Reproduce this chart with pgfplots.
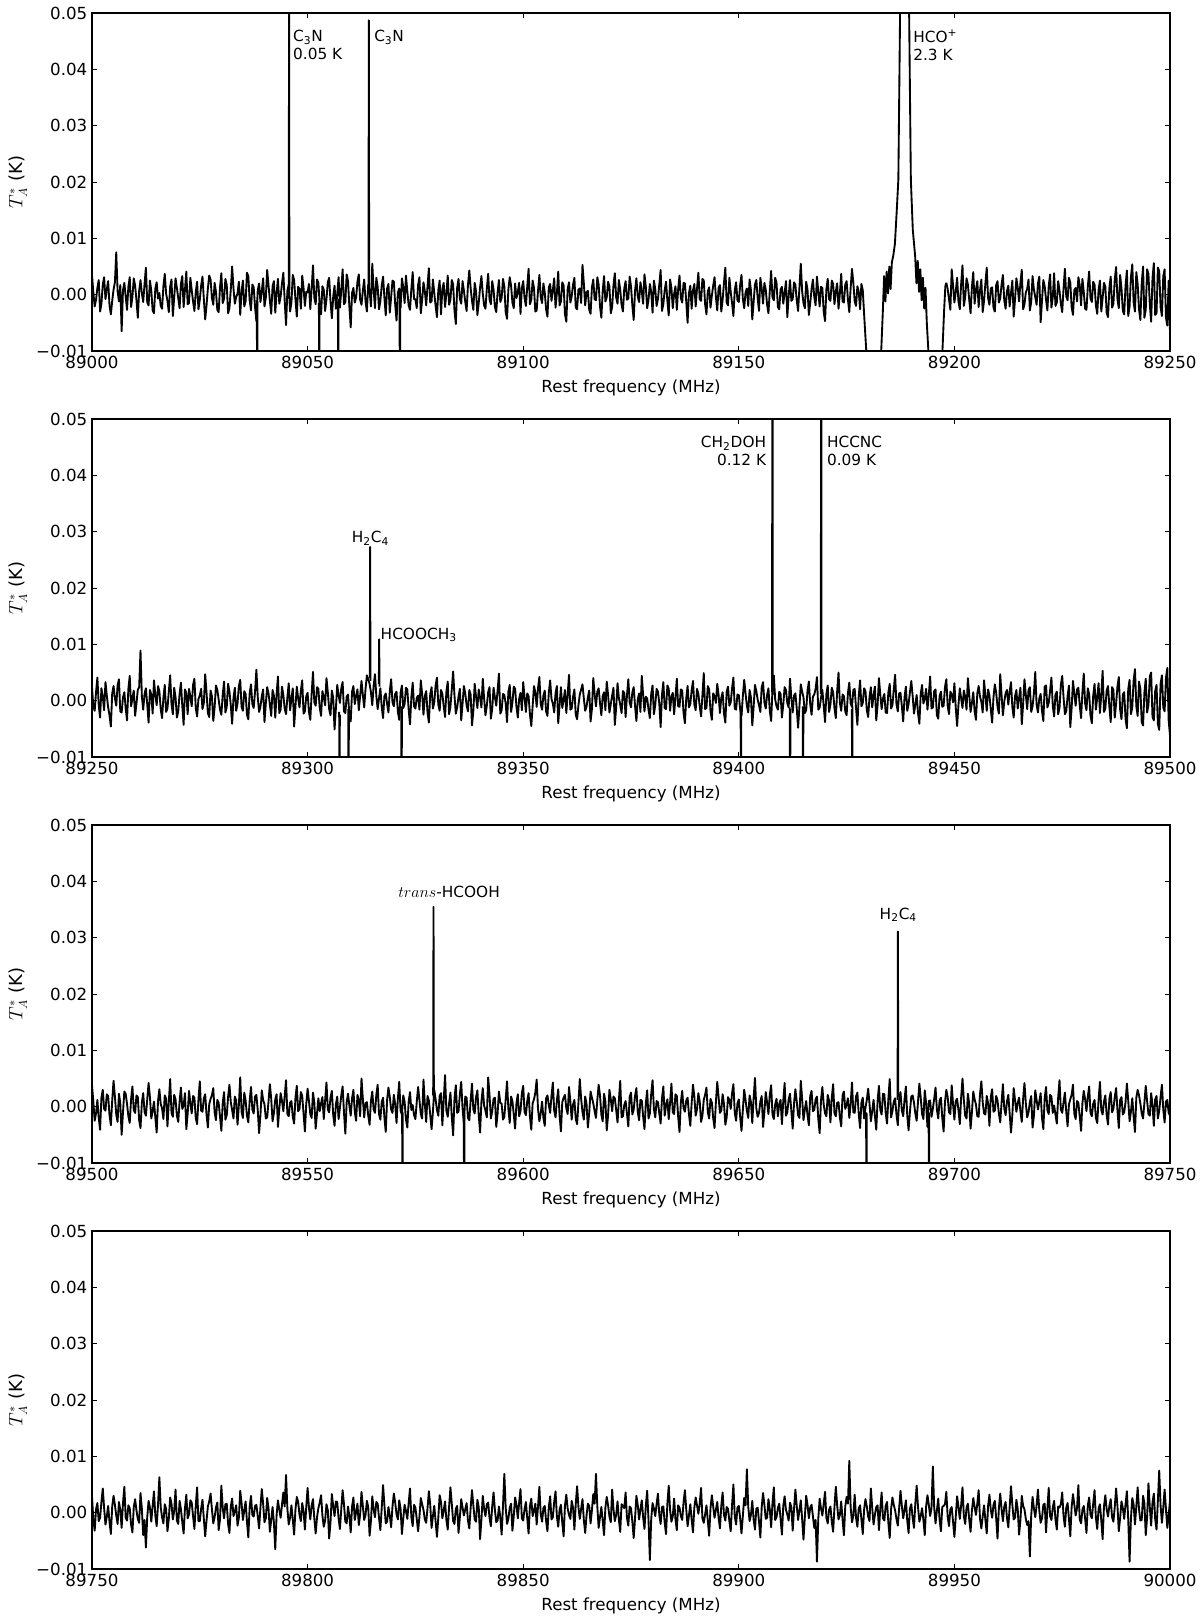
\documentclass[border=0pt]{standalone}
\usepackage{fontspec}
\setmainfont{DejaVu Sans}
\usepackage{pgfplots}
\pgfplotsset{compat=1.18}

\newcommand{\annfont}{\fontsize{11.5}{13.2}\selectfont}

\pgfplotsset{
  specax/.style={
    scale only axis, width=808.5pt, height=253.5pt,
    anchor=south west,
    ymin=-0.01, ymax=0.05,
    scaled x ticks=false, scaled y ticks=false,
    ytick={-0.01,0,0.01,0.02,0.03,0.04,0.05},
    yticklabels={−0.01,0.00,0.01,0.02,0.03,0.04,0.05},
    tick align=inside,
    major tick length=3.5pt,
    every tick/.style={black, line width=0.5pt},
    axis line style={line width=0.8pt},
    tick label style={font=\fontsize{12.5}{15}\selectfont},
    xlabel={Rest frequency (MHz)},
    ylabel={$T_A^*$ (K)},
    every axis x label/.style={at={(axis description cs:0.5,0)}, anchor=center,
      yshift=-27.75pt, font=\fontsize{12.5}{15}\selectfont},
    every axis y label/.style={at={(axis description cs:0,0.5)}, xshift=-55.5pt,
      rotate=90, anchor=center, font=\fontsize{13.5}{16}\selectfont},
    cycle list={{black, solid, mark=none}},
    every axis plot/.append style={line width=1.4pt, line join=round},
  },
}

\begin{document}
\begin{tikzpicture}
\path[use as bounding box] (-69pt,263.25pt) rectangle (831pt,-951.75pt);

% ---------------- panel 1 ----------------
\begin{axis}[specax, at={(0pt,0pt)}, xmin=89000, xmax=89250,
  xtick={89000,89050,89100,89150,89200,89250},
  xticklabels={89000,89050,89100,89150,89200,89250}]
\addplot table[header=false, row sep=\\, x expr=89000+0.3125*\coordindex, y index=0] {
0.0035\\ 0.0004\\ -0.0021\\ -0.0009\\ 0.0012\\ 0.0026\\ -0.0030\\ -0.0016\\ 0.0018\\ 0.0031\\ -0.0008\\ 0.0010\\ 0.0024\\ -0.0019\\ -0.0035\\ -0.0011\\ 0.0009\\ 0.0022\\ 0.0075\\ 0.0006\\ -0.0012\\ 0.0017\\ -0.0065\\ 0.0008\\ 0.0021\\ -0.0003\\ -0.0027\\ 0.0014\\ 0.0031\\ -0.0022\\ -0.0004\\ 0.0029\\ 0.0016\\ -0.0010\\ -0.0041\\ 0.0007\\ 0.0026\\ 0.0002\\ -0.0013\\ 0.0019\\
0.0048\\ -0.0014\\ -0.0019\\ 0.0025\\ 0.0007\\ -0.0028\\ -0.0033\\ 0.0011\\ 0.0022\\ -0.0007\\ 0.0003\\ -0.0020\\ -0.0025\\ 0.0015\\ 0.0037\\ 0.0002\\ -0.0011\\ -0.0031\\ 0.0014\\ 0.0027\\ -0.0038\\ -0.0005\\ 0.0029\\ 0.0012\\ -0.0006\\ -0.0024\\ 0.0019\\ 0.0033\\ -0.0022\\ 0.0009\\ 0.0041\\ -0.0017\\ -0.0015\\ 0.0030\\ 0.0008\\ -0.0012\\ -0.0029\\ 0.0004\\ 0.0023\\ -0.0026\\
-0.0009\\ 0.0016\\ 0.0032\\ -0.0008\\ -0.0044\\ -0.0019\\ 0.0011\\ 0.0034\\ 0.0027\\ -0.0006\\ -0.0018\\ 0.0021\\ 0.0005\\ -0.0027\\ -0.0031\\ 0.0013\\ 0.0038\\ -0.0015\\ -0.0007\\ 0.0028\\ 0.0017\\ -0.0033\\ -0.0024\\ 0.0009\\ 0.0050\\ 0.0011\\ -0.0016\\ -0.0004\\ 0.0002\\ 0.0023\\ -0.0036\\ 0.0006\\ 0.0025\\ -0.0021\\ -0.0012\\ 0.0039\\ 0.0033\\ -0.0010\\ -0.0028\\ 0.0018\\
0.0013\\ -0.0022\\ -0.0047\\ 0.0008\\ 0.0020\\ -0.0013\\ 0.0006\\ 0.0029\\ -0.0021\\ -0.0005\\ 0.0044\\ 0.0017\\ -0.0010\\ -0.0034\\ 0.0015\\ 0.0024\\ -0.0032\\ 0.0003\\ 0.0028\\ -0.0016\\ -0.0003\\ 0.0020\\ 0.0039\\ -0.0011\\ -0.0054\\ 0.0007\\ 0.0018\\ -0.0030\\ -0.0014\\ 0.0035\\ 0.0026\\ -0.0009\\ -0.0039\\ 0.0014\\ 0.0010\\ -0.0025\\ 0.0034\\ 0.0012\\ -0.0020\\ 0.0005\\
0.0004\\ 0.0019\\ -0.0026\\ 0.0010\\ 0.0052\\ -0.0006\\ -0.0017\\ 0.0027\\ 0.0021\\ -0.0018\\ -0.0035\\ 0.0015\\ 0.0009\\ -0.0029\\ -0.0008\\ 0.0022\\ 0.0030\\ -0.0012\\ -0.0042\\ -0.0004\\ 0.0016\\ -0.0025\\ 0.0001\\ 0.0031\\ -0.0023\\ 0.0008\\ 0.0045\\ -0.0017\\ -0.0013\\ 0.0036\\ 0.0024\\ -0.0021\\ -0.0058\\ 0.0003\\ 0.0012\\ -0.0014\\ -0.0005\\ 0.0023\\ 0.0036\\ -0.0009\\
-0.0018\\ 0.0007\\ 0.0027\\ -0.0012\\ -0.0030\\ 0.0018\\ 0.0008\\ -0.0021\\ 0.0055\\ 0.0009\\ -0.0024\\ 0.0030\\ 0.0014\\ -0.0026\\ -0.0011\\ 0.0016\\ 0.0032\\ -0.0005\\ -0.0037\\ 0.0011\\ 0.0019\\ -0.0032\\ -0.0004\\ 0.0025\\ 0.0023\\ -0.0017\\ -0.0046\\ 0.0004\\ 0.0011\\ -0.0023\\ 0.0029\\ 0.0013\\ -0.0015\\ 0.0034\\ 0.0006\\ -0.0019\\ -0.0027\\ 0.0010\\ 0.0040\\ -0.0008\\
-0.0008\\ -0.0024\\ 0.0017\\ 0.0031\\ -0.0033\\ -0.0010\\ 0.0022\\ 0.0006\\ -0.0019\\ 0.0015\\ 0.0047\\ -0.0014\\ -0.0012\\ 0.0027\\ 0.0003\\ -0.0020\\ -0.0040\\ 0.0008\\ 0.0025\\ -0.0035\\ 0.0010\\ 0.0021\\ -0.0022\\ 0.0002\\ 0.0034\\ -0.0018\\ -0.0009\\ 0.0026\\ 0.0018\\ -0.0028\\ -0.0052\\ 0.0012\\ 0.0028\\ -0.0007\\ -0.0016\\ 0.0024\\ 0.0007\\ -0.0013\\ -0.0029\\ 0.0017\\
0.0043\\ 0.0012\\ -0.0011\\ -0.0027\\ 0.0021\\ 0.0006\\ -0.0036\\ -0.0015\\ 0.0013\\ 0.0033\\ 0.0002\\ -0.0019\\ -0.0025\\ 0.0010\\ 0.0037\\ -0.0008\\ -0.0017\\ 0.0024\\ 0.0009\\ -0.0022\\ -0.0031\\ 0.0004\\ 0.0026\\ -0.0013\\ -0.0006\\ 0.0028\\ 0.0015\\ -0.0031\\ -0.0043\\ 0.0009\\ 0.0031\\ 0.0016\\ -0.0014\\ -0.0024\\ 0.0020\\ -0.0006\\ 0.0005\\ 0.0021\\ -0.0034\\ 0.0011\\
0.0024\\ -0.0006\\ -0.0020\\ 0.0014\\ 0.0046\\ -0.0017\\ -0.0009\\ 0.0025\\ 0.0012\\ -0.0030\\ -0.0028\\ 0.0007\\ 0.0035\\ -0.0004\\ -0.0015\\ 0.0020\\ 0.0004\\ -0.0026\\ -0.0039\\ 0.0013\\ 0.0019\\ -0.0011\\ 0.0008\\ 0.0029\\ -0.0023\\ 0.0003\\ 0.0041\\ -0.0019\\ -0.0012\\ 0.0022\\ 0.0016\\ -0.0035\\ -0.0048\\ 0.0010\\ 0.0022\\ -0.0014\\ -0.0003\\ 0.0018\\ 0.0030\\ -0.0023\\
-0.0026\\ 0.0009\\ 0.0011\\ -0.0015\\ 0.0053\\ 0.0020\\ -0.0019\\ 0.0004\\ 0.0007\\ -0.0027\\ -0.0034\\ 0.0013\\ 0.0027\\ -0.0008\\ -0.0010\\ 0.0031\\ 0.0018\\ -0.0021\\ -0.0041\\ 0.0006\\ 0.0033\\ -0.0012\\ -0.0005\\ 0.0023\\ 0.0014\\ -0.0033\\ -0.0022\\ 0.0017\\ 0.0038\\ -0.0005\\ -0.0016\\ 0.0026\\ 0.0009\\ -0.0018\\ -0.0030\\ 0.0011\\ 0.0024\\ -0.0009\\ -0.0007\\ 0.0032\\
0.0015\\ -0.0019\\ -0.0045\\ 0.0007\\ 0.0029\\ -0.0003\\ -0.0013\\ 0.0022\\ 0.0006\\ -0.0016\\ 0.0036\\ 0.0014\\ -0.0024\\ -0.0009\\ 0.0019\\ 0.0005\\ -0.0032\\ 0.0025\\ 0.0010\\ -0.0020\\ -0.0008\\ 0.0018\\ 0.0044\\ -0.0029\\ -0.0017\\ 0.0008\\ 0.0023\\ -0.0011\\ -0.0037\\ 0.0027\\ 0.0012\\ -0.0024\\ 0.0001\\ 0.0015\\ -0.0027\\ 0.0010\\ 0.0034\\ -0.0006\\ -0.0014\\ 0.0021\\
0.0020\\ -0.0012\\ -0.0050\\ 0.0003\\ 0.0016\\ -0.0025\\ 0.0008\\ 0.0019\\ -0.0021\\ 0.0011\\ 0.0039\\ -0.0008\\ -0.0011\\ 0.0028\\ 0.0025\\ -0.0017\\ -0.0035\\ 0.0006\\ 0.0013\\ -0.0023\\ -0.0002\\ 0.0016\\ 0.0031\\ -0.0004\\ -0.0028\\ 0.0012\\ 0.0017\\ -0.0030\\ -0.0009\\ 0.0021\\ 0.0048\\ -0.0014\\ -0.0019\\ 0.0030\\ 0.0005\\ -0.0015\\ -0.0038\\ 0.0008\\ 0.0022\\ -0.0010\\
-0.0013\\ 0.0017\\ 0.0035\\ -0.0007\\ -0.0024\\ 0.0004\\ 0.0011\\ -0.0020\\ 0.0027\\ 0.0008\\ -0.0044\\ -0.0013\\ 0.0018\\ 0.0026\\ -0.0006\\ -0.0029\\ 0.0030\\ 0.0011\\ -0.0016\\ 0.0021\\ 0.0009\\ -0.0018\\ -0.0033\\ 0.0007\\ 0.0042\\ -0.0005\\ -0.0010\\ 0.0030\\ 0.0021\\ -0.0022\\ -0.0026\\ 0.0009\\ 0.0014\\ -0.0016\\ 0.0003\\ 0.0024\\ -0.0040\\ -0.0003\\ 0.0026\\ -0.0011\\
-0.0008\\ 0.0022\\ 0.0017\\ -0.0010\\ -0.0029\\ 0.0013\\ 0.0055\\ 0.0006\\ -0.0015\\ -0.0024\\ 0.0023\\ 0.0009\\ -0.0036\\ -0.0015\\ 0.0010\\ 0.0027\\ -0.0004\\ -0.0019\\ 0.0032\\ 0.0005\\ -0.0021\\ 0.0014\\ 0.0012\\ -0.0030\\ -0.0047\\ 0.0010\\ 0.0028\\ -0.0008\\ -0.0011\\ 0.0025\\ 0.0019\\ -0.0017\\ 0.0006\\ 0.0020\\ -0.0025\\ 0.0002\\ 0.0037\\ -0.0012\\ -0.0014\\ 0.0018\\
0.0024\\ -0.0009\\ -0.0031\\ 0.0012\\ 0.0046\\ 0.0021\\ -0.0012\\ -0.0020\\ 0.0015\\ 0.0006\\ -0.0026\\ 0.0019\\ 0.0008\\
};
% HCO+ line and the dips beside it
\addplot coordinates {(89178.75,0.0008)(89179.1,-0.0040)(89179.6,-0.0105)(89180.5,-0.0200)(89182.2,-0.0200)(89183.0,-0.0105)(89183.4,-0.0030)(89183.7,0.0033)(89184.0,-0.0012)(89184.3,0.0041)(89184.6,0.0002)(89184.9,0.0050)(89185.2,0.0010)(89185.5,0.0058)(89185.8,0.0068)(89186.2,0.0090)(89186.6,0.0145)(89187.0,0.0204)(89187.4,0.0500)(89188.0,1.2)(89188.45,2.3)(89188.9,1.2)(89189.5,0.0500)(89189.9,0.0204)(89190.35,0.0115)(89190.9,0.0068)(89191.2,0.0020)(89191.5,0.0060)(89191.8,0.0005)(89192.1,0.0045)(89192.4,-0.0010)(89192.7,0.0030)(89193.0,-0.0025)(89193.3,0.0012)(89193.6,-0.0050)(89194.0,-0.0105)(89195.0,-0.0200)(89196.5,-0.0200)(89197.2,-0.0105)(89197.6,-0.0030)(89197.9,0.0015)(89198.125,0.0021)};
\addplot table[header=false, row sep=\\, x expr=89198.125+0.3125*\coordindex, y index=0] {
0.0021\\ 0.0010\\ -0.0008\\ -0.0027\\ 0.0045\\ 0.0016\\ -0.0014\\ 0.0005\\ 0.0030\\ -0.0012\\ -0.0026\\ 0.0019\\ 0.0052\\ -0.0020\\ -0.0005\\ 0.0029\\ 0.0018\\ -0.0009\\ -0.0033\\ 0.0014\\ 0.0040\\ -0.0016\\ 0.0009\\ 0.0024\\ -0.0022\\ 0.0007\\ 0.0027\\ -0.0031\\ -0.0011\\ 0.0020\\ 0.0048\\ -0.0006\\ -0.0018\\ 0.0011\\ 0.0013\\ -0.0023\\ -0.0030\\ 0.0017\\ 0.0024\\ -0.0014\\
-0.0007\\ 0.0018\\ 0.0035\\ -0.0010\\ -0.0025\\ 0.0006\\ 0.0016\\ -0.0021\\ 0.0003\\ 0.0025\\ -0.0039\\ -0.0008\\ 0.0029\\ 0.0013\\ -0.0012\\ 0.0021\\ 0.0044\\ -0.0026\\ -0.0017\\ 0.0004\\ 0.0010\\ 0.0027\\ -0.0028\\ -0.0013\\ 0.0033\\ 0.0009\\ -0.0004\\ -0.0018\\ 0.0020\\ 0.0032\\ -0.0049\\ -0.0011\\ 0.0026\\ 0.0015\\ -0.0009\\ -0.0028\\ 0.0015\\ 0.0036\\ -0.0023\\ -0.0005\\
0.0038\\ -0.0020\\ -0.0014\\ 0.0024\\ 0.0007\\ -0.0016\\ -0.0031\\ 0.0011\\ 0.0046\\ -0.0003\\ -0.0010\\ 0.0030\\ 0.0022\\ -0.0022\\ -0.0036\\ 0.0008\\ 0.0012\\ -0.0012\\ 0.0031\\ 0.0017\\ -0.0019\\ 0.0028\\ 0.0005\\ -0.0025\\ -0.0027\\ 0.0014\\ 0.0041\\ -0.0007\\ -0.0013\\ 0.0023\\ 0.0018\\ -0.0019\\ -0.0034\\ 0.0009\\ 0.0025\\ -0.0030\\ -0.0006\\ 0.0021\\ 0.0014\\ -0.0032\\
-0.0040\\ 0.0012\\ 0.0032\\ -0.0023\\ -0.0016\\ 0.0027\\ 0.0049\\ -0.0008\\ -0.0024\\ 0.0035\\ 0.0011\\ -0.0029\\ -0.0035\\ 0.0016\\ 0.0043\\ -0.0038\\ -0.0021\\ 0.0031\\ 0.0054\\ -0.0014\\ -0.0030\\ 0.0040\\ 0.0019\\ -0.0026\\ -0.0045\\ 0.0020\\ 0.0050\\ -0.0041\\ -0.0027\\ 0.0045\\ 0.0037\\ -0.0017\\ -0.0048\\ 0.0029\\ 0.0056\\ -0.0036\\ -0.0033\\ 0.0048\\ 0.0042\\ -0.0022\\
-0.0038\\ 0.0033\\ 0.0045\\ -0.0041\\ -0.0055\\ 0.0025\\ -0.0067\\
};
% narrow lines
\addplot coordinates {(89045.62,0.0015)(89045.70,0.0520)(89045.78,0.0008)};
\addplot coordinates {(89064.12,0.0010)(89064.20,0.0487)(89064.28,0.0012)};
\addplot coordinates {(89038.22,-0.0010)(89038.30,-0.0200)(89038.38,-0.0012)};
\addplot coordinates {(89052.62,-0.0015)(89052.70,-0.0200)(89052.78,-0.0010)};
\addplot coordinates {(89057.02,-0.0012)(89057.10,-0.0200)(89057.18,-0.0008)};
\addplot coordinates {(89071.32,-0.0010)(89071.40,-0.0200)(89071.48,-0.0015)};
\node[anchor=north west, inner sep=0pt, align=left, font=\annfont] at (axis cs:89046.6,0.0470) {C\textsubscript{3}N\\0.05 K};
\node[anchor=north west, inner sep=0pt, align=left, font=\annfont] at (axis cs:89065.4,0.0470) {C\textsubscript{3}N};
\node[anchor=north west, inner sep=0pt, align=left, font=\annfont] at (axis cs:89190.4,0.0470) {HCO\textsuperscript{+}\\2.3 K};
\end{axis}

% ---------------- panel 2 ----------------
\begin{axis}[specax, at={(0pt,-304.5pt)}, xmin=89250, xmax=89500,
  xtick={89250,89300,89350,89400,89450,89500},
  xticklabels={89250,89300,89350,89400,89450,89500}]
\addplot table[header=false, row sep=\\, x expr=89250+0.3125*\coordindex, y index=0] {
0.0024\\ -0.0011\\ -0.0018\\ 0.0015\\ 0.0041\\ -0.0008\\ -0.0030\\ 0.0022\\ 0.0007\\ -0.0017\\ 0.0033\\ 0.0009\\ -0.0012\\ -0.0026\\ -0.0046\\ 0.0013\\ 0.0026\\ 0.0004\\ -0.0009\\ 0.0027\\ 0.0038\\ -0.0019\\ -0.0021\\ 0.0006\\ 0.0015\\ -0.0014\\ -0.0035\\ 0.0021\\ 0.0044\\ -0.0010\\ 0.0004\\ 0.0018\\ -0.0027\\ -0.0005\\ 0.0019\\ 0.0024\\ 0.0089\\ 0.0008\\ -0.0016\\ 0.0012\\
0.0022\\ -0.0007\\ -0.0039\\ 0.0019\\ 0.0011\\ -0.0023\\ 0.0036\\ 0.0010\\ -0.0008\\ 0.0026\\ 0.0017\\ -0.0015\\ -0.0031\\ 0.0005\\ 0.0028\\ -0.0020\\ -0.0014\\ 0.0016\\ 0.0045\\ -0.0006\\ -0.0024\\ 0.0023\\ 0.0006\\ -0.0030\\ -0.0019\\ 0.0012\\ 0.0032\\ -0.0009\\ -0.0043\\ 0.0020\\ 0.0013\\ -0.0024\\ 0.0021\\ 0.0007\\ -0.0010\\ 0.0028\\ 0.0039\\ -0.0013\\ -0.0028\\ 0.0003\\
0.0009\\ 0.0021\\ -0.0015\\ -0.0004\\ 0.0047\\ 0.0014\\ -0.0022\\ -0.0029\\ 0.0018\\ 0.0008\\ -0.0036\\ -0.0012\\ 0.0027\\ 0.0019\\ 0.0002\\ -0.0016\\ -0.0025\\ 0.0010\\ 0.0034\\ -0.0021\\ -0.0011\\ 0.0030\\ 0.0016\\ -0.0008\\ -0.0041\\ 0.0005\\ 0.0023\\ -0.0018\\ -0.0005\\ 0.0026\\ 0.0037\\ -0.0011\\ -0.0018\\ 0.0017\\ 0.0012\\ -0.0025\\ -0.0033\\ 0.0013\\ 0.0029\\ -0.0006\\
-0.0013\\ 0.0016\\ 0.0055\\ 0.0007\\ -0.0020\\ -0.0011\\ 0.0008\\ 0.0020\\ -0.0038\\ -0.0005\\ 0.0024\\ 0.0013\\ -0.0007\\ -0.0027\\ 0.0019\\ 0.0009\\ -0.0030\\ 0.0011\\ 0.0043\\ -0.0022\\ -0.0016\\ 0.0025\\ 0.0010\\ -0.0014\\ -0.0024\\ 0.0006\\ 0.0031\\ -0.0017\\ 0.0003\\ 0.0022\\ -0.0046\\ -0.0010\\ 0.0025\\ 0.0004\\ -0.0012\\ 0.0018\\ 0.0036\\ -0.0023\\ -0.0019\\ 0.0008\\
0.0014\\ -0.0020\\ -0.0034\\ 0.0012\\ 0.0051\\ -0.0003\\ -0.0009\\ 0.0024\\ 0.0021\\ -0.0013\\ -0.0027\\ 0.0017\\ 0.0006\\ -0.0008\\ 0.0040\\ 0.0015\\ -0.0015\\ -0.0026\\ 0.0018\\ 0.0005\\ -0.0051\\ -0.0014\\ 0.0028\\ 0.0010\\ -0.0004\\ 0.0022\\ 0.0033\\ -0.0019\\ -0.0022\\ 0.0007\\ 0.0011\\ -0.0025\\ -0.0037\\ 0.0016\\ 0.0026\\ -0.0006\\ 0.0008\\ 0.0020\\ -0.0017\\ 0.0009\\
0.0035\\ 0.0010\\ -0.0012\\ 0.0021\\ 0.0045\\ 0.0038\\ 0.0030\\ 0.0015\\ -0.0008\\ 0.0026\\ 0.0047\\ 0.0009\\ -0.0015\\ 0.0004\\ 0.0022\\ -0.0011\\ -0.0031\\ 0.0008\\ 0.0013\\ -0.0006\\ -0.0021\\ 0.0017\\ 0.0038\\ -0.0003\\ -0.0010\\ 0.0012\\ 0.0016\\ -0.0020\\ -0.0034\\ 0.0014\\ 0.0027\\ -0.0013\\ -0.0006\\ 0.0023\\ 0.0020\\ -0.0016\\ -0.0042\\ 0.0006\\ 0.0032\\ -0.0010\\
-0.0014\\ 0.0005\\ 0.0009\\ -0.0016\\ 0.0036\\ 0.0012\\ -0.0025\\ 0.0008\\ 0.0017\\ -0.0021\\ -0.0039\\ 0.0011\\ 0.0024\\ -0.0014\\ -0.0003\\ 0.0027\\ 0.0041\\ -0.0007\\ -0.0018\\ 0.0019\\ 0.0012\\ -0.0010\\ -0.0029\\ 0.0016\\ 0.0034\\ -0.0024\\ -0.0011\\ 0.0020\\ 0.0052\\ 0.0009\\ -0.0023\\ -0.0012\\ 0.0007\\ 0.0021\\ -0.0035\\ -0.0005\\ 0.0026\\ 0.0013\\ -0.0008\\ -0.0019\\
0.0019\\ 0.0011\\ -0.0044\\ -0.0018\\ 0.0030\\ 0.0007\\ -0.0013\\ 0.0020\\ 0.0005\\ -0.0012\\ 0.0039\\ 0.0004\\ -0.0026\\ -0.0009\\ 0.0015\\ 0.0024\\ -0.0032\\ -0.0015\\ 0.0023\\ 0.0006\\ -0.0009\\ 0.0018\\ 0.0048\\ -0.0023\\ -0.0017\\ 0.0012\\ 0.0010\\ -0.0005\\ -0.0038\\ 0.0016\\ 0.0028\\ -0.0020\\ -0.0004\\ 0.0025\\ 0.0021\\ -0.0011\\ -0.0030\\ 0.0003\\ 0.0014\\ -0.0017\\
0.0033\\ 0.0006\\ -0.0020\\ 0.0013\\ 0.0008\\ -0.0024\\ -0.0045\\ -0.0010\\ 0.0026\\ 0.0015\\ -0.0011\\ 0.0022\\ 0.0042\\ -0.0006\\ -0.0016\\ 0.0009\\ 0.0018\\ -0.0019\\ -0.0027\\ 0.0014\\ 0.0036\\ 0.0003\\ -0.0005\\ -0.0021\\ 0.0013\\ 0.0026\\ -0.0040\\ -0.0008\\ 0.0024\\ -0.0013\\ 0.0001\\ 0.0019\\ -0.0022\\ 0.0011\\ 0.0046\\ -0.0016\\ -0.0014\\ 0.0007\\ 0.0020\\ -0.0025\\
-0.0033\\ -0.0008\\ 0.0011\\ 0.0020\\ 0.0029\\ 0.0004\\ -0.0018\\ -0.0011\\ 0.0006\\ 0.0018\\ -0.0037\\ -0.0015\\ 0.0040\\ 0.0012\\ -0.0010\\ 0.0016\\ 0.0022\\ -0.0004\\ -0.0026\\ 0.0008\\ 0.0015\\ -0.0017\\ 0.0034\\ 0.0010\\ -0.0021\\ -0.0006\\ 0.0009\\ 0.0023\\ -0.0043\\ -0.0012\\ 0.0031\\ 0.0005\\ -0.0007\\ -0.0022\\ 0.0017\\ 0.0014\\ -0.0029\\ 0.0009\\ 0.0038\\ -0.0003\\
-0.0012\\ 0.0015\\ 0.0024\\ -0.0009\\ -0.0036\\ 0.0002\\ 0.0013\\ -0.0020\\ 0.0044\\ 0.0010\\ -0.0019\\ 0.0007\\ 0.0004\\ -0.0016\\ -0.0031\\ 0.0012\\ 0.0027\\ -0.0024\\ -0.0008\\ 0.0021\\ 0.0016\\ -0.0005\\ -0.0047\\ 0.0011\\ 0.0033\\ -0.0013\\ -0.0015\\ 0.0027\\ 0.0021\\ -0.0018\\ 0.0007\\ 0.0014\\ -0.0024\\ 0.0006\\ 0.0039\\ -0.0010\\ -0.0011\\ 0.0020\\ 0.0018\\ -0.0022\\
-0.0040\\ 0.0004\\ 0.0026\\ -0.0012\\ -0.0006\\ 0.0018\\ 0.0035\\ -0.0007\\ -0.0017\\ 0.0021\\ 0.0012\\ -0.0010\\ -0.0028\\ 0.0009\\ 0.0049\\ -0.0015\\ -0.0013\\ 0.0026\\ 0.0020\\ -0.0019\\ -0.0034\\ 0.0013\\ 0.0008\\ -0.0004\\ 0.0030\\ 0.0010\\ -0.0022\\ 0.0005\\ 0.0015\\ -0.0023\\ -0.0039\\ 0.0016\\ 0.0025\\ -0.0009\\ -0.0003\\ 0.0022\\ 0.0041\\ -0.0014\\ -0.0016\\ 0.0011\\
0.0010\\ -0.0015\\ -0.0027\\ 0.0008\\ 0.0037\\ 0.0013\\ -0.0009\\ -0.0021\\ 0.0019\\ 0.0006\\ -0.0044\\ -0.0011\\ 0.0028\\ 0.0017\\ 0.0002\\ -0.0008\\ -0.0020\\ 0.0024\\ 0.0033\\ -0.0003\\ -0.0014\\ 0.0010\\ 0.0022\\ -0.0018\\ -0.0036\\ 0.0020\\ 0.0045\\ 0.0002\\ -0.0010\\ -0.0016\\ 0.0016\\ 0.0012\\ -0.0030\\ -0.0007\\ 0.0024\\ 0.0019\\ -0.0005\\ -0.0012\\ 0.0039\\ 0.0005\\
-0.0021\\ 0.0009\\ 0.0013\\ -0.0014\\ -0.0048\\ -0.0010\\ 0.0029\\ 0.0016\\ 0.0006\\ -0.0022\\ -0.0017\\ 0.0018\\ 0.0034\\ -0.0006\\ -0.0025\\ 0.0007\\ 0.0011\\ 0.0021\\ 0.0042\\ -0.0016\\ -0.0012\\ 0.0005\\ 0.0019\\ -0.0009\\ -0.0038\\ 0.0012\\ 0.0027\\ -0.0020\\ -0.0007\\ 0.0023\\ 0.0015\\ -0.0013\\ -0.0031\\ 0.0017\\ 0.0050\\ -0.0004\\ -0.0018\\ 0.0011\\ 0.0008\\ -0.0019\\
-0.0026\\ 0.0014\\ 0.0032\\ -0.0005\\ -0.0011\\ 0.0019\\ 0.0021\\ -0.0013\\ -0.0043\\ 0.0008\\ 0.0036\\ -0.0010\\ -0.0004\\ 0.0022\\ 0.0017\\ -0.0017\\ -0.0029\\ 0.0006\\ 0.0024\\ -0.0012\\ 0.0009\\ 0.0025\\ -0.0035\\ -0.0008\\ 0.0040\\ 0.0011\\ -0.0015\\ 0.0004\\ 0.0012\\ -0.0021\\ -0.0022\\ 0.0015\\ 0.0030\\ -0.0014\\ -0.0008\\ 0.0020\\ 0.0046\\ -0.0006\\ -0.0019\\ 0.0013\\
0.0014\\ -0.0010\\ -0.0037\\ 0.0006\\ 0.0025\\ -0.0018\\ -0.0006\\ 0.0015\\ 0.0035\\ 0.0009\\ -0.0023\\ -0.0007\\ 0.0010\\ -0.0022\\ -0.0041\\ 0.0012\\ 0.0028\\ -0.0005\\ 0.0003\\ 0.0021\\ -0.0016\\ 0.0010\\ 0.0043\\ -0.0014\\ -0.0012\\ 0.0017\\ 0.0020\\ -0.0026\\ -0.0032\\ 0.0008\\ 0.0016\\ -0.0011\\ -0.0009\\ 0.0024\\ 0.0038\\ -0.0009\\ -0.0024\\ 0.0016\\ 0.0011\\ -0.0003\\
0.0031\\ -0.0012\\ -0.0045\\ -0.0008\\ 0.0022\\ 0.0004\\ -0.0013\\ 0.0018\\ 0.0007\\ -0.0016\\ 0.0040\\ 0.0011\\ -0.0020\\ -0.0004\\ 0.0015\\ -0.0019\\ -0.0034\\ 0.0013\\ 0.0026\\ 0.0007\\ -0.0002\\ -0.0021\\ 0.0036\\ 0.0009\\ -0.0018\\ 0.0020\\ 0.0009\\ -0.0015\\ -0.0039\\ 0.0006\\ 0.0029\\ 0.0014\\ -0.0011\\ -0.0023\\ 0.0047\\ 0.0010\\ -0.0026\\ -0.0002\\ 0.0013\\ 0.0019\\
-0.0007\\ 0.0016\\ 0.0033\\ -0.0011\\ -0.0030\\ 0.0008\\ 0.0019\\ -0.0014\\ 0.0005\\ 0.0023\\ -0.0042\\ -0.0006\\ 0.0038\\ 0.0010\\ -0.0015\\ 0.0019\\ 0.0024\\ -0.0020\\ -0.0010\\ 0.0013\\ 0.0051\\ -0.0007\\ -0.0021\\ 0.0004\\ 0.0012\\ -0.0018\\ -0.0036\\ 0.0025\\ 0.0027\\ -0.0012\\ -0.0004\\ 0.0017\\ 0.0041\\ -0.0009\\ -0.0028\\ 0.0011\\ 0.0016\\ -0.0024\\ -0.0013\\ 0.0028\\
0.0044\\ 0.0006\\ -0.0024\\ -0.0019\\ 0.0008\\ 0.0027\\ -0.0047\\ -0.0013\\ 0.0035\\ 0.0012\\ -0.0009\\ 0.0020\\ 0.0023\\ -0.0008\\ -0.0031\\ 0.0015\\ 0.0048\\ -0.0005\\ -0.0017\\ 0.0022\\ 0.0012\\ -0.0027\\ -0.0040\\ 0.0009\\ 0.0030\\ -0.0016\\ 0.0006\\ 0.0031\\ -0.0022\\ 0.0010\\ 0.0053\\ -0.0020\\ -0.0014\\ 0.0018\\ 0.0026\\ -0.0011\\ -0.0038\\ 0.0024\\ 0.0019\\ -0.0030\\
-0.0005\\ 0.0025\\ 0.0042\\ -0.0016\\ -0.0033\\ 0.0011\\ 0.0015\\ -0.0032\\ -0.0049\\ 0.0020\\ 0.0037\\ -0.0024\\ -0.0012\\ 0.0036\\ 0.0056\\ -0.0010\\ -0.0027\\ 0.0034\\ 0.0021\\ -0.0038\\ -0.0044\\ 0.0014\\ 0.0039\\ -0.0021\\ -0.0008\\ 0.0043\\ 0.0050\\ -0.0029\\ -0.0035\\ 0.0017\\ 0.0028\\ -0.0041\\ -0.0052\\ 0.0030\\ 0.0045\\ -0.0012\\ -0.0019\\ 0.0040\\ 0.0058\\ -0.0035\\
-0.0062\\
};
\addplot coordinates {(89314.42,0.0040)(89314.50,0.0273)(89314.58,0.0035)};
\addplot coordinates {(89316.52,0.0030)(89316.60,0.0109)(89316.68,0.0025)};
\addplot coordinates {(89407.72,0.0015)(89407.80,0.1200)(89407.88,0.0010)};
\addplot coordinates {(89419.02,0.0012)(89419.10,0.0900)(89419.18,0.0016)};
\addplot coordinates {(89307.32,-0.0020)(89307.40,-0.0200)(89307.48,-0.0025)};
\addplot coordinates {(89309.42,-0.0015)(89309.50,-0.0200)(89309.58,-0.0020)};
\addplot coordinates {(89321.72,-0.0010)(89321.80,-0.0200)(89321.88,-0.0012)};
\addplot coordinates {(89400.42,-0.0015)(89400.50,-0.0200)(89400.58,-0.0010)};
\addplot coordinates {(89411.82,-0.0012)(89411.90,-0.0200)(89411.98,-0.0015)};
\addplot coordinates {(89414.82,-0.0010)(89414.90,-0.0200)(89414.98,-0.0012)};
\addplot coordinates {(89426.22,-0.0015)(89426.30,-0.0200)(89426.38,-0.0010)};
\node[anchor=base, inner sep=0pt, font=\annfont] at (axis cs:89314.6,0.0280) {H\textsubscript{2}C\textsubscript{4}};
\node[anchor=base west, inner sep=0pt, font=\annfont] at (axis cs:89316.9,0.0109) {HCOOCH\textsubscript{3}};
\node[anchor=north east, inner sep=0pt, align=right, font=\annfont] at (axis cs:89406.4,0.0470) {CH\textsubscript{2}DOH\\0.12 K};
\node[anchor=north west, inner sep=0pt, align=left, font=\annfont] at (axis cs:89420.4,0.0470) {HCCNC\\0.09 K};
\end{axis}

% ---------------- panel 3 ----------------
\begin{axis}[specax, at={(0pt,-609pt)}, xmin=89500, xmax=89750,
  xtick={89500,89550,89600,89650,89700,89750},
  xticklabels={89500,89550,89600,89650,89700,89750}]
\addplot table[header=false, row sep=\\, x expr=89500+0.3125*\coordindex, y index=0] {
0.0038\\ 0.0009\\ -0.0025\\ -0.0012\\ 0.0012\\ -0.0020\\ -0.0041\\ 0.0016\\ 0.0030\\ -0.0004\\ -0.0007\\ 0.0022\\ 0.0019\\ -0.0015\\ -0.0033\\ 0.0011\\ 0.0046\\ 0.0018\\ -0.0014\\ -0.0027\\ 0.0023\\ 0.0006\\ -0.0050\\ -0.0010\\ 0.0027\\ 0.0023\\ 0.0005\\ -0.0017\\ -0.0029\\ 0.0013\\ 0.0036\\ -0.0006\\ -0.0011\\ 0.0020\\ 0.0017\\ -0.0024\\ -0.0038\\ 0.0007\\ 0.0024\\ -0.0009\\
-0.0016\\ 0.0013\\ 0.0042\\ 0.0017\\ -0.0021\\ -0.0008\\ 0.0009\\ -0.0019\\ -0.0046\\ 0.0010\\ 0.0031\\ 0.0005\\ -0.0003\\ -0.0022\\ 0.0020\\ 0.0014\\ -0.0035\\ 0.0008\\ 0.0049\\ -0.0011\\ -0.0018\\ 0.0021\\ 0.0013\\ -0.0016\\ -0.0027\\ 0.0009\\ 0.0034\\ -0.0004\\ 0.0002\\ 0.0024\\ -0.0040\\ -0.0013\\ 0.0028\\ 0.0006\\ -0.0012\\ 0.0019\\ 0.0016\\ -0.0020\\ -0.0031\\ 0.0012\\
0.0045\\ -0.0007\\ -0.0009\\ 0.0015\\ 0.0022\\ -0.0014\\ -0.0037\\ 0.0004\\ 0.0014\\ 0.0020\\ 0.0033\\ -0.0010\\ -0.0024\\ 0.0012\\ 0.0007\\ -0.0018\\ -0.0043\\ 0.0006\\ 0.0026\\ -0.0023\\ -0.0015\\ 0.0017\\ 0.0039\\ 0.0008\\ -0.0006\\ -0.0021\\ 0.0018\\ 0.0011\\ -0.0032\\ 0.0003\\ 0.0052\\ -0.0009\\ -0.0020\\ 0.0025\\ 0.0011\\ -0.0016\\ -0.0028\\ 0.0010\\ 0.0035\\ -0.0005\\
-0.0012\\ 0.0018\\ 0.0021\\ -0.0006\\ -0.0047\\ -0.0015\\ 0.0029\\ 0.0012\\ 0.0004\\ -0.0021\\ -0.0019\\ 0.0009\\ 0.0040\\ 0.0014\\ -0.0026\\ -0.0011\\ 0.0013\\ 0.0022\\ -0.0036\\ -0.0004\\ 0.0024\\ 0.0010\\ -0.0008\\ 0.0019\\ 0.0047\\ -0.0013\\ -0.0017\\ 0.0007\\ 0.0010\\ -0.0018\\ -0.0030\\ 0.0016\\ 0.0037\\ -0.0008\\ -0.0004\\ 0.0026\\ 0.0019\\ -0.0012\\ -0.0044\\ 0.0005\\
0.0032\\ 0.0010\\ -0.0013\\ -0.0020\\ 0.0025\\ 0.0007\\ -0.0039\\ -0.0012\\ 0.0015\\ -0.0008\\ 0.0006\\ 0.0017\\ -0.0022\\ 0.0011\\ 0.0043\\ -0.0005\\ -0.0010\\ 0.0016\\ 0.0028\\ -0.0014\\ -0.0034\\ 0.0004\\ 0.0018\\ -0.0022\\ -0.0002\\ 0.0020\\ 0.0036\\ -0.0010\\ -0.0048\\ 0.0008\\ 0.0023\\ 0.0002\\ -0.0016\\ 0.0015\\ 0.0030\\ -0.0009\\ -0.0025\\ 0.0021\\ 0.0012\\ -0.0017\\
0.0050\\ 0.0014\\ -0.0019\\ 0.0006\\ 0.0008\\ -0.0016\\ -0.0032\\ 0.0010\\ 0.0027\\ -0.0005\\ -0.0011\\ 0.0021\\ 0.0039\\ -0.0013\\ -0.0023\\ 0.0008\\ 0.0016\\ -0.0019\\ -0.0045\\ 0.0012\\ 0.0034\\ 0.0017\\ -0.0005\\ -0.0011\\ 0.0021\\ 0.0004\\ -0.0029\\ 0.0015\\ 0.0044\\ -0.0007\\ -0.0014\\ 0.0020\\ 0.0009\\ -0.0023\\ -0.0037\\ 0.0009\\ 0.0026\\ -0.0006\\ 0.0003\\ -0.0015\\
-0.0022\\ 0.0008\\ 0.0035\\ 0.0012\\ -0.0013\\ -0.0021\\ 0.0048\\ 0.0005\\ -0.0027\\ 0.0019\\ 0.0011\\ -0.0014\\ -0.0040\\ -0.0009\\ 0.0030\\ 0.0013\\ -0.0006\\ -0.0016\\ 0.0019\\ 0.0024\\ -0.0033\\ 0.0010\\ 0.0056\\ -0.0007\\ -0.0018\\ 0.0006\\ 0.0025\\ -0.0018\\ -0.0051\\ 0.0014\\ 0.0038\\ -0.0011\\ -0.0009\\ 0.0022\\ 0.0044\\ -0.0004\\ -0.0030\\ 0.0018\\ 0.0016\\ -0.0020\\
-0.0024\\ 0.0011\\ 0.0041\\ -0.0005\\ -0.0012\\ 0.0017\\ 0.0029\\ -0.0015\\ -0.0046\\ 0.0009\\ 0.0033\\ 0.0002\\ -0.0007\\ -0.0019\\ 0.0052\\ 0.0021\\ -0.0021\\ -0.0008\\ 0.0014\\ 0.0016\\ -0.0036\\ -0.0012\\ 0.0027\\ 0.0007\\ 0.0005\\ -0.0023\\ -0.0018\\ 0.0013\\ 0.0045\\ -0.0004\\ -0.0029\\ 0.0018\\ 0.0010\\ -0.0014\\ -0.0039\\ 0.0006\\ 0.0022\\ -0.0017\\ -0.0008\\ 0.0024\\
0.0037\\ -0.0009\\ -0.0015\\ 0.0010\\ 0.0024\\ -0.0018\\ -0.0041\\ 0.0006\\ 0.0013\\ 0.0025\\ 0.0048\\ -0.0004\\ -0.0026\\ -0.0012\\ 0.0009\\ -0.0020\\ -0.0034\\ 0.0015\\ 0.0020\\ 0.0003\\ -0.0011\\ 0.0019\\ 0.0043\\ -0.0007\\ -0.0019\\ 0.0011\\ 0.0031\\ -0.0016\\ -0.0044\\ 0.0008\\ 0.0016\\ 0.0021\\ -0.0003\\ -0.0013\\ 0.0035\\ 0.0009\\ -0.0023\\ 0.0004\\ 0.0012\\ -0.0022\\
-0.0031\\ 0.0007\\ 0.0049\\ 0.0014\\ -0.0010\\ -0.0023\\ 0.0018\\ 0.0005\\ -0.0037\\ -0.0011\\ 0.0027\\ 0.0016\\ 0.0006\\ -0.0008\\ -0.0020\\ 0.0012\\ 0.0039\\ 0.0020\\ -0.0014\\ -0.0026\\ 0.0023\\ 0.0009\\ -0.0042\\ -0.0015\\ 0.0030\\ 0.0013\\ -0.0008\\ 0.0018\\ 0.0015\\ -0.0006\\ -0.0028\\ 0.0011\\ 0.0046\\ -0.0019\\ -0.0017\\ 0.0003\\ 0.0010\\ -0.0012\\ -0.0035\\ 0.0017\\
0.0025\\ -0.0014\\ -0.0005\\ 0.0019\\ 0.0033\\ -0.0009\\ -0.0024\\ 0.0012\\ 0.0011\\ -0.0017\\ -0.0040\\ 0.0006\\ 0.0029\\ -0.0021\\ -0.0012\\ 0.0023\\ 0.0047\\ -0.0005\\ -0.0019\\ 0.0010\\ 0.0008\\ -0.0012\\ -0.0030\\ 0.0015\\ 0.0036\\ -0.0016\\ 0.0002\\ 0.0013\\ -0.0022\\ 0.0007\\ 0.0041\\ -0.0010\\ -0.0013\\ 0.0022\\ 0.0019\\ -0.0018\\ -0.0045\\ 0.0008\\ 0.0028\\ -0.0003\\
-0.0009\\ 0.0011\\ 0.0016\\ -0.0013\\ -0.0034\\ 0.0006\\ 0.0039\\ 0.0018\\ -0.0016\\ -0.0004\\ 0.0024\\ 0.0009\\ -0.0027\\ -0.0016\\ 0.0012\\ 0.0021\\ 0.0034\\ -0.0010\\ -0.0021\\ 0.0014\\ 0.0007\\ -0.0020\\ -0.0038\\ 0.0008\\ 0.0044\\ 0.0017\\ -0.0011\\ -0.0007\\ 0.0022\\ 0.0005\\ -0.0032\\ -0.0019\\ 0.0017\\ 0.0012\\ -0.0004\\ 0.0024\\ 0.0040\\ -0.0011\\ -0.0025\\ 0.0006\\
0.0013\\ -0.0018\\ -0.0043\\ -0.0006\\ 0.0030\\ 0.0012\\ -0.0007\\ -0.0020\\ 0.0020\\ 0.0008\\ -0.0029\\ 0.0015\\ 0.0051\\ -0.0003\\ -0.0018\\ -0.0011\\ 0.0009\\ 0.0019\\ -0.0036\\ -0.0009\\ 0.0026\\ 0.0007\\ -0.0013\\ 0.0021\\ 0.0038\\ -0.0014\\ -0.0022\\ 0.0004\\ 0.0014\\ -0.0017\\ 0.0005\\ 0.0012\\ -0.0031\\ 0.0010\\ 0.0042\\ -0.0016\\ -0.0010\\ 0.0013\\ 0.0023\\ -0.0008\\
-0.0039\\ 0.0006\\ 0.0031\\ 0.0009\\ -0.0015\\ -0.0020\\ 0.0046\\ 0.0014\\ -0.0024\\ -0.0005\\ 0.0010\\ -0.0015\\ -0.0033\\ 0.0019\\ 0.0028\\ -0.0008\\ -0.0006\\ 0.0013\\ 0.0018\\ -0.0022\\ -0.0047\\ 0.0011\\ 0.0035\\ 0.0004\\ -0.0012\\ -0.0017\\ 0.0021\\ 0.0010\\ -0.0028\\ 0.0016\\ 0.0040\\ -0.0012\\ -0.0017\\ 0.0007\\ 0.0008\\ -0.0019\\ -0.0035\\ 0.0020\\ 0.0027\\ -0.0004\\
0.0003\\ 0.0015\\ -0.0020\\ 0.0004\\ 0.0043\\ -0.0010\\ -0.0011\\ 0.0018\\ 0.0025\\ -0.0013\\ -0.0038\\ 0.0007\\ 0.0016\\ -0.0021\\ -0.0002\\ 0.0012\\ 0.0032\\ 0.0005\\ -0.0026\\ -0.0008\\ 0.0012\\ -0.0016\\ -0.0041\\ 0.0010\\ 0.0037\\ -0.0006\\ -0.0014\\ 0.0023\\ 0.0022\\ -0.0011\\ -0.0030\\ 0.0014\\ 0.0049\\ -0.0019\\ -0.0008\\ 0.0009\\ 0.0015\\ -0.0014\\ -0.0033\\ 0.0011\\
0.0026\\ -0.0007\\ -0.0017\\ 0.0013\\ 0.0036\\ -0.0015\\ -0.0042\\ -0.0009\\ 0.0018\\ 0.0020\\ 0.0007\\ -0.0012\\ -0.0025\\ 0.0009\\ 0.0041\\ 0.0016\\ -0.0013\\ -0.0022\\ 0.0029\\ 0.0006\\ -0.0036\\ 0.0010\\ 0.0011\\ -0.0018\\ -0.0004\\ 0.0014\\ 0.0034\\ -0.0005\\ -0.0021\\ 0.0011\\ 0.0016\\ -0.0020\\ -0.0044\\ 0.0008\\ 0.0030\\ 0.0017\\ -0.0010\\ -0.0013\\ 0.0038\\ 0.0004\\
-0.0023\\ 0.0010\\ 0.0014\\ -0.0006\\ -0.0031\\ 0.0016\\ 0.0050\\ 0.0012\\ -0.0016\\ -0.0021\\ 0.0023\\ 0.0005\\ -0.0039\\ -0.0010\\ 0.0027\\ 0.0013\\ 0.0004\\ -0.0017\\ -0.0018\\ 0.0022\\ 0.0045\\ 0.0008\\ -0.0012\\ -0.0014\\ 0.0019\\ 0.0006\\ -0.0034\\ 0.0017\\ 0.0031\\ -0.0009\\ -0.0007\\ 0.0019\\ 0.0011\\ -0.0012\\ -0.0028\\ 0.0007\\ 0.0040\\ -0.0003\\ -0.0015\\ 0.0009\\
0.0021\\ -0.0012\\ -0.0046\\ -0.0015\\ 0.0033\\ 0.0011\\ -0.0009\\ 0.0007\\ 0.0016\\ -0.0008\\ -0.0027\\ 0.0014\\ 0.0042\\ 0.0006\\ -0.0019\\ -0.0010\\ 0.0008\\ 0.0019\\ -0.0037\\ -0.0016\\ 0.0029\\ 0.0012\\ -0.0005\\ 0.0009\\ 0.0024\\ -0.0020\\ -0.0040\\ 0.0015\\ 0.0035\\ -0.0006\\ -0.0013\\ 0.0021\\ 0.0018\\ -0.0011\\ 0.0002\\ -0.0014\\ -0.0030\\ 0.0016\\ 0.0047\\ -0.0005\\
-0.0011\\ 0.0008\\ 0.0025\\ -0.0009\\ -0.0035\\ 0.0004\\ 0.0013\\ 0.0021\\ 0.0039\\ -0.0013\\ -0.0022\\ 0.0010\\ 0.0007\\ -0.0017\\ -0.0043\\ 0.0006\\ 0.0028\\ 0.0013\\ -0.0008\\ 0.0018\\ 0.0036\\ -0.0011\\ -0.0017\\ 0.0005\\ 0.0012\\ -0.0020\\ -0.0029\\ 0.0012\\ 0.0044\\ -0.0006\\ -0.0014\\ 0.0009\\ 0.0020\\ -0.0015\\ -0.0032\\ 0.0014\\ 0.0026\\ -0.0010\\ -0.0004\\ 0.0017\\
0.0033\\ -0.0006\\ -0.0038\\ 0.0012\\ 0.0017\\ -0.0014\\ -0.0010\\ 0.0008\\ 0.0041\\ 0.0011\\ -0.0026\\ -0.0009\\ 0.0015\\ -0.0018\\ -0.0045\\ 0.0016\\ 0.0030\\ 0.0020\\ 0.0006\\ -0.0012\\ -0.0021\\ 0.0007\\ 0.0037\\ 0.0010\\ -0.0013\\ -0.0016\\ 0.0024\\ 0.0004\\ -0.0034\\ 0.0013\\ 0.0019\\ -0.0021\\ -0.0007\\ 0.0017\\ 0.0039\\ -0.0005\\ -0.0028\\ 0.0009\\ 0.0012\\ -0.0011\\
-0.0016\\
};
\addplot coordinates {(89579.12,0.0020)(89579.20,0.0355)(89579.28,0.0015)};
\addplot coordinates {(89686.82,0.0012)(89686.90,0.0311)(89686.98,0.0018)};
\addplot coordinates {(89571.92,-0.0015)(89572.00,-0.0200)(89572.08,-0.0010)};
\addplot coordinates {(89586.22,-0.0012)(89586.30,-0.0200)(89586.38,-0.0015)};
\addplot coordinates {(89679.52,-0.0010)(89679.60,-0.0200)(89679.68,-0.0012)};
\addplot coordinates {(89694.02,-0.0015)(89694.10,-0.0200)(89694.18,-0.0010)};
\node[anchor=base, inner sep=0pt, font=\annfont] at (axis cs:89582.8,0.0371) {$trans$-HCOOH};
\node[anchor=base, inner sep=0pt, font=\annfont] at (axis cs:89687.0,0.0333) {H\textsubscript{2}C\textsubscript{4}};
\end{axis}

% ---------------- panel 4 ----------------
\begin{axis}[specax, at={(0pt,-913.5pt)}, xmin=89750, xmax=90000,
  xtick={89750,89800,89850,89900,89950,90000},
  xticklabels={89750,89800,89850,89900,89950,90000}]
\addplot table[header=false, row sep=\\, x expr=89750+0.3125*\coordindex, y index=0] {
0.0028\\ -0.0012\\ -0.0032\\ 0.0006\\ 0.0017\\ -0.0015\\ -0.0009\\ 0.0019\\ 0.0043\\ 0.0008\\ -0.0021\\ -0.0007\\ 0.0012\\ -0.0016\\ -0.0038\\ 0.0011\\ 0.0030\\ 0.0014\\ -0.0005\\ -0.0020\\ 0.0019\\ 0.0005\\ -0.0027\\ 0.0017\\ 0.0046\\ -0.0009\\ -0.0014\\ 0.0013\\ 0.0008\\ -0.0021\\ -0.0035\\ 0.0010\\ 0.0024\\ 0.0004\\ -0.0011\\ -0.0018\\ 0.0035\\ 0.0007\\ -0.0040\\ -0.0013\\
-0.0062\\ -0.0008\\ 0.0021\\ 0.0009\\ -0.0016\\ 0.0012\\ 0.0038\\ -0.0005\\ -0.0024\\ 0.0014\\ 0.0063\\ 0.0010\\ -0.0008\\ -0.0019\\ 0.0015\\ 0.0007\\ -0.0033\\ -0.0011\\ 0.0027\\ 0.0016\\ -0.0012\\ 0.0003\\ 0.0041\\ -0.0014\\ -0.0020\\ 0.0021\\ 0.0006\\ -0.0017\\ -0.0037\\ 0.0008\\ 0.0032\\ -0.0010\\ -0.0003\\ 0.0022\\ 0.0018\\ -0.0006\\ -0.0029\\ 0.0012\\ 0.0045\\ -0.0015\\
-0.0015\\ 0.0007\\ 0.0023\\ -0.0011\\ -0.0042\\ -0.0014\\ 0.0011\\ 0.0020\\ 0.0034\\ 0.0006\\ -0.0019\\ -0.0008\\ 0.0009\\ 0.0018\\ -0.0031\\ -0.0012\\ 0.0048\\ 0.0009\\ -0.0010\\ 0.0015\\ 0.0016\\ -0.0020\\ -0.0036\\ 0.0011\\ 0.0025\\ -0.0006\\ 0.0002\\ 0.0013\\ -0.0023\\ -0.0009\\ 0.0039\\ 0.0017\\ -0.0013\\ 0.0004\\ 0.0020\\ -0.0016\\ -0.0044\\ 0.0010\\ 0.0030\\ -0.0004\\
-0.0007\\ 0.0012\\ 0.0014\\ -0.0006\\ -0.0028\\ 0.0009\\ 0.0042\\ 0.0016\\ -0.0017\\ -0.0010\\ 0.0026\\ 0.0008\\ -0.0034\\ -0.0013\\ 0.0010\\ -0.0018\\ -0.0065\\ -0.0004\\ 0.0022\\ 0.0005\\ -0.0009\\ 0.0014\\ 0.0036\\ 0.0011\\ 0.0067\\ 0.0007\\ -0.0021\\ -0.0009\\ 0.0013\\ -0.0012\\ -0.0039\\ 0.0006\\ 0.0028\\ 0.0019\\ -0.0004\\ -0.0015\\ 0.0017\\ 0.0003\\ -0.0030\\ 0.0010\\
0.0044\\ 0.0009\\ -0.0012\\ 0.0013\\ 0.0024\\ -0.0011\\ -0.0037\\ -0.0008\\ 0.0008\\ 0.0018\\ 0.0031\\ -0.0005\\ -0.0025\\ -0.0014\\ 0.0015\\ 0.0004\\ -0.0046\\ -0.0017\\ 0.0033\\ 0.0012\\ -0.0006\\ 0.0020\\ 0.0019\\ -0.0010\\ -0.0029\\ 0.0007\\ 0.0040\\ 0.0015\\ -0.0016\\ -0.0019\\ 0.0011\\ -0.0006\\ -0.0035\\ 0.0011\\ 0.0027\\ -0.0013\\ 0.0001\\ 0.0016\\ -0.0022\\ -0.0003\\
0.0037\\ 0.0012\\ -0.0013\\ -0.0004\\ 0.0021\\ 0.0010\\ -0.0041\\ -0.0015\\ 0.0029\\ 0.0006\\ -0.0008\\ 0.0019\\ 0.0016\\ -0.0009\\ -0.0031\\ 0.0008\\ 0.0049\\ 0.0013\\ -0.0019\\ -0.0016\\ 0.0010\\ -0.0005\\ -0.0026\\ 0.0011\\ 0.0034\\ 0.0018\\ -0.0003\\ -0.0012\\ 0.0022\\ 0.0007\\ -0.0038\\ -0.0010\\ 0.0014\\ 0.0003\\ -0.0011\\ 0.0017\\ 0.0043\\ -0.0008\\ -0.0024\\ 0.0014\\
0.0009\\ -0.0011\\ -0.0033\\ -0.0007\\ 0.0026\\ 0.0015\\ 0.0005\\ -0.0012\\ -0.0018\\ 0.0008\\ 0.0038\\ 0.0014\\ -0.0027\\ -0.0006\\ 0.0012\\ -0.0016\\ -0.0043\\ -0.0009\\ 0.0031\\ 0.0019\\ -0.0010\\ 0.0004\\ 0.0020\\ -0.0013\\ -0.0030\\ 0.0010\\ 0.0045\\ 0.0016\\ -0.0015\\ -0.0020\\ 0.0007\\ 0.0012\\ -0.0036\\ -0.0008\\ 0.0024\\ 0.0009\\ -0.0005\\ 0.0006\\ 0.0017\\ -0.0014\\
-0.0028\\ 0.0008\\ 0.0040\\ 0.0013\\ -0.0012\\ -0.0016\\ 0.0023\\ 0.0010\\ -0.0047\\ -0.0012\\ 0.0030\\ 0.0007\\ -0.0006\\ 0.0015\\ 0.0018\\ -0.0009\\ -0.0024\\ 0.0011\\ 0.0036\\ 0.0005\\ -0.0017\\ -0.0014\\ 0.0011\\ -0.0008\\ -0.0039\\ 0.0012\\ 0.0069\\ 0.0009\\ -0.0020\\ -0.0011\\ 0.0009\\ 0.0016\\ -0.0032\\ -0.0006\\ 0.0027\\ 0.0014\\ -0.0010\\ 0.0018\\ 0.0042\\ -0.0010\\
-0.0014\\ 0.0006\\ 0.0019\\ -0.0010\\ -0.0037\\ 0.0012\\ 0.0025\\ -0.0006\\ 0.0003\\ 0.0016\\ -0.0021\\ 0.0011\\ 0.0046\\ -0.0003\\ -0.0016\\ 0.0008\\ 0.0012\\ -0.0015\\ -0.0033\\ 0.0010\\ 0.0029\\ -0.0012\\ -0.0008\\ 0.0019\\ 0.0038\\ -0.0007\\ -0.0025\\ 0.0005\\ 0.0014\\ -0.0018\\ -0.0042\\ 0.0013\\ 0.0032\\ 0.0007\\ -0.0004\\ -0.0011\\ 0.0021\\ 0.0009\\ -0.0030\\ 0.0015\\
0.0047\\ 0.0010\\ -0.0011\\ 0.0007\\ 0.0024\\ -0.0013\\ -0.0036\\ -0.0005\\ 0.0016\\ 0.0012\\ -0.0019\\ 0.0004\\ 0.0033\\ 0.0016\\ 0.0069\\ 0.0011\\ -0.0027\\ -0.0008\\ 0.0010\\ -0.0014\\ -0.0040\\ 0.0009\\ 0.0028\\ 0.0013\\ -0.0007\\ -0.0017\\ 0.0041\\ 0.0006\\ -0.0015\\ -0.0004\\ 0.0020\\ -0.0012\\ -0.0034\\ 0.0015\\ 0.0012\\ 0.0008\\ 0.0036\\ -0.0009\\ -0.0023\\ 0.0011\\
0.0008\\ -0.0016\\ -0.0045\\ -0.0010\\ 0.0030\\ 0.0014\\ -0.0012\\ 0.0006\\ 0.0022\\ -0.0008\\ -0.0029\\ 0.0012\\ 0.0039\\ -0.0013\\ -0.0084\\ -0.0011\\ 0.0017\\ 0.0007\\ -0.0006\\ 0.0015\\ 0.0034\\ -0.0004\\ -0.0020\\ 0.0010\\ 0.0011\\ -0.0018\\ -0.0038\\ 0.0016\\ 0.0048\\ 0.0005\\ -0.0016\\ -0.0007\\ 0.0025\\ -0.0012\\ -0.0031\\ 0.0013\\ 0.0009\\ -0.0006\\ -0.0013\\ 0.0018\\
0.0040\\ 0.0006\\ -0.0024\\ -0.0005\\ 0.0015\\ -0.0012\\ -0.0035\\ 0.0009\\ 0.0027\\ 0.0013\\ -0.0002\\ 0.0016\\ 0.0044\\ -0.0010\\ -0.0018\\ -0.0003\\ 0.0013\\ -0.0014\\ -0.0041\\ 0.0008\\ 0.0031\\ 0.0011\\ -0.0009\\ 0.0005\\ 0.0019\\ -0.0009\\ -0.0028\\ 0.0012\\ 0.0036\\ -0.0004\\ -0.0014\\ 0.0010\\ 0.0007\\ -0.0015\\ -0.0033\\ 0.0014\\ 0.0050\\ -0.0007\\ -0.0021\\ 0.0009\\
0.0012\\ -0.0010\\ -0.0037\\ -0.0006\\ 0.0026\\ 0.0013\\ 0.0077\\ 0.0011\\ -0.0015\\ -0.0004\\ 0.0021\\ -0.0012\\ -0.0030\\ 0.0007\\ 0.0009\\ -0.0016\\ -0.0044\\ 0.0010\\ 0.0035\\ 0.0014\\ -0.0011\\ -0.0009\\ 0.0024\\ 0.0006\\ -0.0026\\ 0.0017\\ 0.0045\\ -0.0013\\ -0.0008\\ 0.0008\\ 0.0016\\ -0.0011\\ -0.0039\\ 0.0012\\ 0.0029\\ 0.0005\\ -0.0003\\ -0.0014\\ 0.0018\\ 0.0010\\
-0.0032\\ 0.0007\\ 0.0041\\ 0.0012\\ -0.0013\\ 0.0004\\ 0.0022\\ -0.0011\\ -0.0048\\ -0.0008\\ 0.0030\\ 0.0014\\ -0.0010\\ 0.0009\\ 0.0014\\ -0.0006\\ -0.0027\\ -0.0013\\ -0.0087\\ -0.0010\\ 0.0025\\ 0.0008\\ -0.0005\\ 0.0015\\ 0.0037\\ -0.0009\\ -0.0019\\ 0.0005\\ 0.0011\\ -0.0016\\ -0.0034\\ 0.0010\\ 0.0046\\ 0.0013\\ -0.0012\\ -0.0004\\ 0.0020\\ -0.0012\\ -0.0040\\ 0.0011\\
0.0028\\ 0.0016\\ 0.0092\\ 0.0010\\ -0.0017\\ -0.0005\\ 0.0032\\ -0.0009\\ -0.0025\\ 0.0008\\ 0.0013\\ -0.0012\\ -0.0038\\ 0.0006\\ 0.0024\\ 0.0011\\ -0.0007\\ -0.0015\\ 0.0043\\ 0.0009\\ -0.0021\\ -0.0004\\ 0.0010\\ 0.0013\\ -0.0031\\ 0.0007\\ 0.0036\\ -0.0010\\ -0.0014\\ 0.0012\\ 0.0019\\ -0.0018\\ -0.0045\\ 0.0006\\ 0.0027\\ 0.0014\\ 0.0004\\ -0.0011\\ -0.0023\\ 0.0008\\
0.0039\\ 0.0012\\ -0.0010\\ 0.0005\\ 0.0022\\ -0.0014\\ -0.0036\\ 0.0007\\ 0.0015\\ -0.0009\\ -0.0027\\ 0.0016\\ 0.0048\\ 0.0010\\ -0.0016\\ -0.0006\\ 0.0008\\ -0.0013\\ -0.0040\\ 0.0011\\ 0.0031\\ 0.0014\\ -0.0006\\ 0.0008\\ 0.0082\\ 0.0009\\ -0.0019\\ 0.0004\\ 0.0025\\ -0.0012\\ -0.0033\\ 0.0010\\ 0.0012\\ 0.0015\\ 0.0037\\ -0.0007\\ -0.0024\\ 0.0006\\ 0.0010\\ -0.0016\\
-0.0043\\ -0.0008\\ 0.0029\\ 0.0011\\ -0.0011\\ 0.0013\\ 0.0045\\ -0.0006\\ -0.0020\\ 0.0009\\ 0.0016\\ -0.0012\\ -0.0034\\ 0.0004\\ 0.0026\\ 0.0010\\ -0.0004\\ 0.0016\\ 0.0040\\ -0.0011\\ -0.0028\\ -0.0007\\ 0.0013\\ -0.0013\\ -0.0037\\ 0.0012\\ 0.0032\\ 0.0005\\ -0.0009\\ 0.0014\\ 0.0021\\ -0.0010\\ -0.0046\\ 0.0008\\ 0.0034\\ 0.0006\\ -0.0015\\ 0.0011\\ 0.0019\\ -0.0009\\
-0.0026\\ 0.0010\\ 0.0047\\ 0.0014\\ -0.0012\\ -0.0009\\ 0.0023\\ 0.0006\\ -0.0039\\ -0.0013\\ 0.0030\\ 0.0012\\ 0.0006\\ -0.0011\\ -0.0022\\ -0.0015\\ -0.0078\\ -0.0005\\ 0.0028\\ 0.0008\\ -0.0008\\ 0.0013\\ 0.0041\\ 0.0004\\ -0.0018\\ -0.0010\\ 0.0014\\ 0.0016\\ -0.0035\\ 0.0007\\ 0.0044\\ -0.0006\\ -0.0013\\ 0.0009\\ 0.0021\\ -0.0012\\ -0.0030\\ 0.0011\\ 0.0009\\ 0.0015\\
0.0036\\ -0.0006\\ -0.0025\\ 0.0009\\ 0.0017\\ -0.0011\\ -0.0042\\ 0.0010\\ 0.0033\\ 0.0014\\ -0.0005\\ 0.0008\\ 0.0049\\ -0.0012\\ -0.0019\\ 0.0005\\ 0.0012\\ -0.0010\\ -0.0036\\ 0.0013\\ 0.0027\\ -0.0004\\ -0.0010\\ 0.0016\\ 0.0040\\ -0.0009\\ -0.0029\\ 0.0007\\ 0.0015\\ -0.0014\\ -0.0047\\ 0.0011\\ 0.0031\\ 0.0006\\ -0.0007\\ 0.0012\\ 0.0024\\ -0.0008\\ -0.0016\\ 0.0010\\
0.0043\\ 0.0012\\ -0.0033\\ -0.0009\\ 0.0020\\ 0.0008\\ -0.0011\\ 0.0015\\ 0.0038\\ -0.0012\\ -0.0087\\ -0.0010\\ 0.0026\\ 0.0014\\ -0.0021\\ 0.0011\\ 0.0045\\ 0.0006\\ -0.0014\\ -0.0013\\ 0.0030\\ 0.0017\\ -0.0040\\ -0.0008\\ 0.0052\\ 0.0010\\ -0.0023\\ 0.0018\\ 0.0034\\ -0.0011\\ -0.0030\\ 0.0021\\ 0.0075\\ 0.0013\\ -0.0018\\ 0.0009\\ 0.0041\\ 0.0007\\ -0.0027\\ -0.0005\\
0.0022\\
};
\end{axis}
\end{tikzpicture}
\end{document}
